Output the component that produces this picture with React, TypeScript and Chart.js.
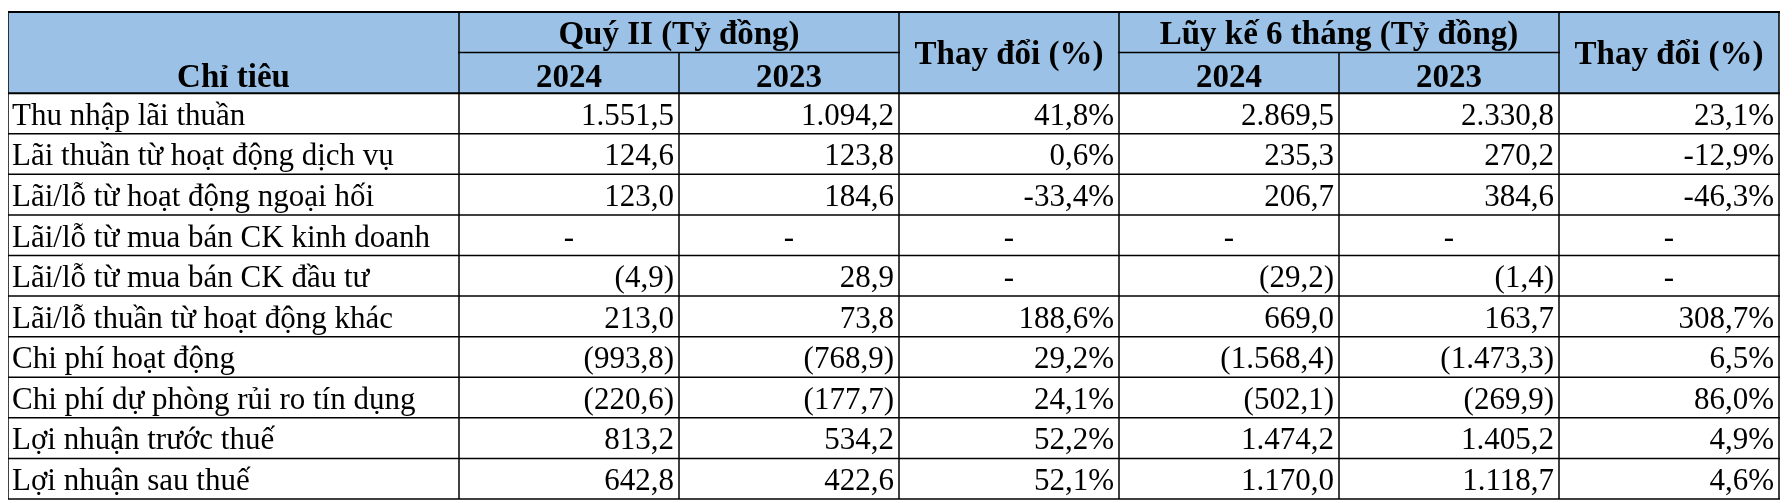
import React, { useEffect, useRef } from "react";
import { Chart, registerables } from "chart.js";

Chart.register(...registerables);

const rowLabels = [
  "Thu nhập lãi thuần",
  "Lãi thuần từ hoạt động dịch vụ",
  "Lãi/lỗ từ hoạt động ngoại hối",
  "Lãi/lỗ từ mua bán CK kinh doanh",
  "Lãi/lỗ từ mua bán CK đầu tư",
  "Lãi/lỗ thuần từ hoạt động khác",
  "Chi phí hoạt động",
  "Chi phí dự phòng rủi ro tín dụng",
  "Lợi nhuận trước thuế",
  "Lợi nhuận sau thuế",
];

const q2_2024 = [1551.5, 124.6, 123.0, null, -4.9, 213.0, -993.8, -220.6, 813.2, 642.8];
const q2_2023 = [1094.2, 123.8, 184.6, null, 28.9, 73.8, -768.9, -177.7, 534.2, 422.6];
const q2Change = [41.8, 0.6, -33.4, null, null, 188.6, 29.2, 24.1, 52.2, 52.1];
const h1_2024 = [2869.5, 235.3, 206.7, null, -29.2, 669.0, -1568.4, -502.1, 1474.2, 1170.0];
const h1_2023 = [2330.8, 270.2, 384.6, null, -1.4, 163.7, -1473.3, -269.9, 1405.2, 1118.7];
const h1Change = [23.1, -12.9, -46.3, null, null, 308.7, 6.5, 86.0, 4.9, 4.6];

const headerFirst = "Chỉ tiêu";
const groupQ2 = "Quý II (Tỷ đồng)";
const groupH1 = "Lũy kế 6 tháng (Tỷ đồng)";
const changeHeader = "Thay đổi (%)";
const yearLabels = ["2024", "2023"];

// layout (relative column widths)
const colWeights = [2.05, 1, 1, 1, 1, 1, 1];
const headerRows = 2;

function fmtNum(v: number | null): string {
  if (v === null) return "-";
  const abs = Math.abs(v);
  const fixed = abs.toFixed(1);
  const [ip, dp] = fixed.split(".");
  const withSep = ip.replace(/\B(?=(\d{3})+(?!\d))/g, ".");
  const s = withSep + "," + dp;
  return v < 0 ? "(" + s + ")" : s;
}
function fmtPct(v: number | null): string {
  if (v === null) return "-";
  const s = Math.abs(v).toFixed(1).replace(".", ",") + "%";
  return v < 0 ? "-" + s : s;
}

const colEdges: number[] = [0];
colWeights.forEach((w, i) => colEdges.push(colEdges[i] + w));
const totalW = colEdges[colEdges.length - 1];
const totalRows = headerRows + rowLabels.length;

const tablePlugin = {
  id: "tablePlugin",
  afterDraw(chart: any) {
    const ctx = chart.ctx as CanvasRenderingContext2D;
    const xs = chart.scales.x;
    const ys = chart.scales.y;
    const X = (v: number) => xs.getPixelForValue(v);
    const Y = (v: number) => ys.getPixelForValue(v);
    ctx.save();

    // header background
    ctx.fillStyle = "#9BC2E6";
    ctx.fillRect(X(0), Y(0), X(totalW) - X(0), Y(headerRows) - Y(0));

    // lines
    ctx.strokeStyle = "#000";
    const hline = (y: number, x0: number, x1: number, lw: number) => {
      ctx.lineWidth = lw;
      ctx.beginPath();
      ctx.moveTo(X(x0) - 1, Y(y));
      ctx.lineTo(X(x1) + 1, Y(y));
      ctx.stroke();
    };
    const vline = (x: number, y0: number, y1: number, lw: number) => {
      ctx.lineWidth = lw;
      ctx.beginPath();
      ctx.moveTo(X(x), Y(y0));
      ctx.lineTo(X(x), Y(y1));
      ctx.stroke();
    };
    hline(0, 0, totalW, 2);
    hline(1, colEdges[1], colEdges[3], 1.5);
    hline(1, colEdges[4], colEdges[6], 1.5);
    for (let r = headerRows; r <= totalRows; r++) hline(r, 0, totalW, r === headerRows ? 2 : 1.5);
    for (let c = 0; c < colEdges.length; c++) {
      const inner = c === 2 || c === 5;
      vline(colEdges[c], inner ? 1 : 0, totalRows, 1.5);
    }

    // header text
    ctx.fillStyle = "#000";
    ctx.font = "bold 33px 'Liberation Serif'";
    ctx.textAlign = "center";
    ctx.textBaseline = "alphabetic";
    const cx = (a: number, b: number) => (X(colEdges[a]) + X(colEdges[b])) / 2;
    ctx.fillText(headerFirst, cx(0, 1), Y(2) - 6);
    ctx.fillText(groupQ2, cx(1, 3), Y(1) - 9);
    ctx.fillText(groupH1, cx(4, 6), Y(1) - 9);
    ctx.fillText(yearLabels[0], cx(1, 2), Y(2) - 6);
    ctx.fillText(yearLabels[1], cx(2, 3), Y(2) - 6);
    ctx.fillText(yearLabels[0], cx(4, 5), Y(2) - 6);
    ctx.fillText(yearLabels[1], cx(5, 6), Y(2) - 6);
    const midY = (Y(0) + Y(2)) / 2 + 11;
    ctx.fillText(changeHeader, cx(3, 4), midY);
    ctx.fillText(changeHeader, cx(6, 7), midY);

    // body text
    ctx.font = "31px 'Liberation Serif'";
    const cols = [q2_2024, q2_2023, q2Change, h1_2024, h1_2023, h1Change];
    rowLabels.forEach((label, i) => {
      const base = Y(headerRows + i + 1) - 9;
      ctx.textAlign = "left";
      ctx.fillText(label, X(colEdges[0]) + 4, base);
      cols.forEach((arr, j) => {
        const v = arr[i];
        const isPct = j === 2 || j === 5;
        const txt = isPct ? fmtPct(v) : fmtNum(v);
        if (v === null) {
          ctx.textAlign = "center";
          ctx.fillText(txt, cx(j + 1, j + 2), base);
        } else {
          ctx.textAlign = "right";
          ctx.fillText(txt, X(colEdges[j + 2]) - 5, base);
        }
      });
    });
    ctx.restore();
  },
};

export default function App() {
  const ref = useRef<HTMLCanvasElement>(null);
  useEffect(() => {
    if (!ref.current) return;
    const chart = new Chart(ref.current, {
      type: "scatter",
      data: { datasets: [{ data: [] }] },
      options: {
        animation: false,
        responsive: false,
        layout: { padding: { left: 0, top: 4, right: 5, bottom: 4 } },
        plugins: { legend: { display: false }, tooltip: { enabled: false } },
        scales: {
          x: { type: "linear", min: 0, max: totalW, display: false },
          y: { type: "linear", min: 0, max: totalRows, reverse: true, display: false },
        },
      },
      plugins: [tablePlugin],
    });
    return () => chart.destroy();
  }, []);
  return <canvas ref={ref} width={1776} height={495} style={{ display: "block" }} />;
}
